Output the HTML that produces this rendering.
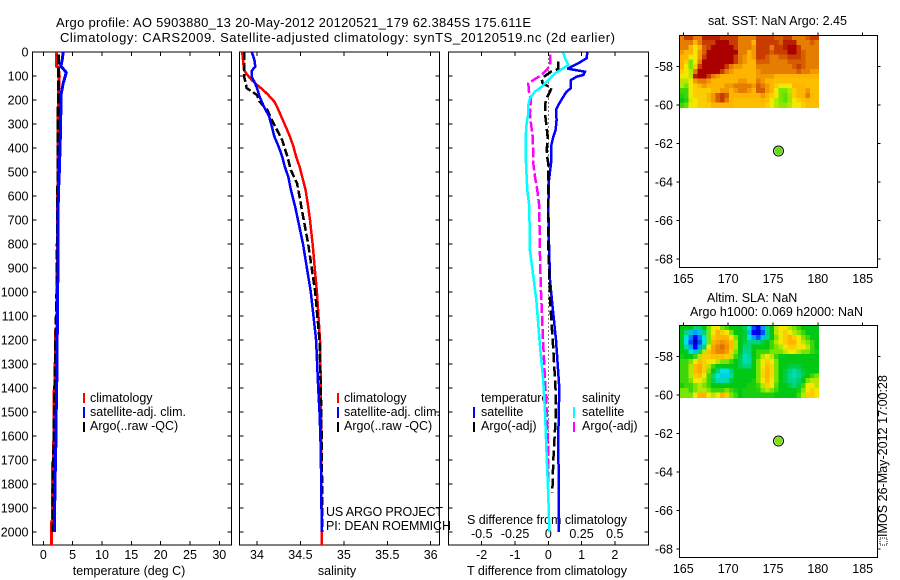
<!DOCTYPE html>
<html>
<head>
<meta charset="utf-8">
<title>Argo profile 5903880_13</title>
<style>
html,body{margin:0;padding:0;background:#fff;}
svg{display:block;}
text{font-family:"Liberation Sans",sans-serif;font-size:12.5px;fill:#000;}
</style>
</head>
<body>
<svg id="chart" xmlns="http://www.w3.org/2000/svg" width="900" height="580" viewBox="0 0 900 580">
  <rect x="0" y="0" width="900" height="580" fill="#fff"/>
  <text x="56" y="27" textLength="475" style="font-size:13px">Argo profile: AO 5903880_13 20-May-2012 20120521_179 62.3845S 175.611E</text>
  <text x="60" y="42" textLength="555" style="font-size:13px">Climatology: CARS2009. Satellite-adjusted climatology: synTS_20120519.nc (2d earlier)</text>

  <text x="129" y="575" text-anchor="middle">temperature (deg C)</text>
  <text x="337" y="575" text-anchor="middle">salinity</text>
  <text x="547" y="575" text-anchor="middle" textLength="160">T difference from climatology</text>
  <text x="547" y="524" text-anchor="middle" textLength="160">S difference from climatology</text>

  <text x="326" y="516" textLength="117">US ARGO PROJECT</text>
  <text x="326" y="530" textLength="125">PI: DEAN ROEMMICH</text>

  <text x="708" y="25">sat. SST: NaN Argo: 2.45</text>
  <text x="707" y="302">Altim. SLA: NaN</text>
  <text x="690" y="316" textLength="173">Argo h1000: 0.069 h2000: NaN</text>

  <rect x="880" y="538" width="7" height="7" fill="none" stroke="#000" stroke-width="1" stroke-dasharray="1 1" shape-rendering="crispEdges"/>
  <text transform="translate(887,537) rotate(-90)" textLength="162">IMOS 26-May-2012 17:00:28</text>

  <g>
    <line x1="84" y1="393" x2="84" y2="403" stroke="#f00" stroke-width="2"/>
    <text x="90" y="402">climatology</text>
    <line x1="84" y1="407" x2="84" y2="418" stroke="#00f" stroke-width="2"/>
    <text x="90" y="416" textLength="96">satellite-adj. clim.</text>
    <line x1="84" y1="422" x2="84" y2="432" stroke="#000" stroke-width="2"/>
    <text x="90" y="430">Argo(..raw -QC)</text>
  </g>
  <g>
    <line x1="338" y1="393" x2="338" y2="403" stroke="#f00" stroke-width="2"/>
    <text x="344" y="402">climatology</text>
    <line x1="338" y1="407" x2="338" y2="418" stroke="#00f" stroke-width="2"/>
    <text x="344" y="416" textLength="96">satellite-adj. clim.</text>
    <line x1="338" y1="422" x2="338" y2="432" stroke="#000" stroke-width="2"/>
    <text x="344" y="430">Argo(..raw -QC)</text>
  </g>
  <g>
    <text x="481" y="402">temperature</text>
    <line x1="474" y1="407" x2="474" y2="418" stroke="#00f" stroke-width="2"/>
    <text x="481" y="416">satellite</text>
    <line x1="474" y1="422" x2="474" y2="432" stroke="#000" stroke-width="2"/>
    <text x="481" y="430">Argo(-adj)</text>
    <text x="582" y="402">salinity</text>
    <line x1="574" y1="407" x2="574" y2="418" stroke="#0ff" stroke-width="2"/>
    <text x="582" y="416">satellite</text>
    <line x1="574" y1="422" x2="574" y2="432" stroke="#f0f" stroke-width="2"/>
    <text x="582" y="430">Argo(-adj)</text>
  </g>
</svg>
<script>
/* ---------- Tick labels ---------- */
const depthTicks = [0,100,200,300,400,500,600,700,800,900,1000,1100,1200,1300,1400,1500,1600,1700,1800,1900,2000];
const temperatureTicks = [0,5,10,15,20,25,30];
const salinityTicks = [34,34.5,35,35.5,36];
const tDiffTicks = [-2,-1,0,1,2];
const sDiffTicks = [-0.5,-0.25,0,0.25,0.5];
const lonTicks = [165,170,175,180,185];
const latTicks = [-58,-60,-62,-64,-66,-68];

/* ---------- Temperature panel ---------- */
const tempClimDepth = [0,60,62,100,120,200,400,800,1150,1160,1400,1410,1700,1710,1950,1960,2054];
const tempClimValue = [2.28,2.28,2.55,2.73,2.7,2.56,2.5,2.4,2.3,2.1,2.0,1.85,1.75,1.6,1.55,1.4,1.4];
const tempSatDepth = [0,30,60,70,85,100,130,180,300,500,600,1000,1400,1500,1600,1800,2000];
const tempSatValue = [3.4,3.24,3.0,3.4,3.9,3.75,3.4,3.0,2.96,2.72,2.56,2.45,2.28,2.2,2.16,2.0,1.87];
const tempArgoDepth = [10,200,400,600,1000,1400,1700,1900,2000];
const tempArgoValue = [2.56,2.56,2.5,2.45,2.3,1.95,1.75,1.65,1.62];

/* ---------- Salinity panel ---------- */
const salClimDepth = [0,75,96,117,137,158,179,207,228,269,311,353,395,436,478,520,575,645,700,800,1000,1200,1400,1700,2054];
const salClimValue = [33.83,33.85,33.89,33.94,34.0,34.07,34.13,34.2,34.23,34.28,34.33,34.38,34.42,34.45,34.49,34.52,34.56,34.59,34.61,34.64,34.69,34.725,34.735,34.74,34.745];
const salSatDepth = [0,33,61,78,103,124,150,186,228,269,311,353,395,436,478,520,575,645,800,1000,1200,1400,1500,1600,1800,2000];
const salSatValue = [33.94,33.97,33.98,33.94,33.94,33.97,34.0,34.03,34.08,34.14,34.17,34.2,34.25,34.29,34.32,34.36,34.39,34.44,34.53,34.62,34.68,34.705,34.72,34.73,34.74,34.745];
const salArgoDepth = [0,100,130,150,165,179,207,242,283,325,367,436,492,547,603,645,800,1000,1200,1500,1800,2000];
const salArgoValue = [33.85,33.85,33.87,33.88,33.94,34.0,34.03,34.12,34.17,34.23,34.29,34.35,34.39,34.46,34.49,34.51,34.59,34.67,34.72,34.74,34.75,34.75];

/* ---------- Difference panel ---------- */
const diffTSatDepth = [2,26,47,68,70,82,96,103,117,151,165,193,221,242,283,325,353,394,464,533,644,800,950,1050,1200,1400,1600,2000];
const diffTSatValue = [1.17,1.15,0.9,0.6,0.6,1.1,1.05,0.85,0.68,0.68,0.55,0.42,0.3,0.23,0.25,0.22,0.15,0.08,0.08,0.02,0,0.02,0.05,0.12,0.23,0.33,0.3,0.32];
const diffTArgoDepth = [40,70,82,110,130,150,165,193,221,256,312,353,424,464,533,644,800,1033,1240,1408,1530,1700,1837];
const diffTArgoValue = [0.3,0.3,0.08,-0.2,-0.17,0.1,0.05,-0.05,-0.1,-0.1,-0.05,-0.02,-0.05,0,0,0,0,0.05,0.15,0.22,0.22,0.15,0.12];
const diffSSatDepth = [2,26,54,68,89,117,145,165,193,221,256,298,353,464,575,644,825,1033,1240,1367,1500,1645,1850,2000];
const diffSSatValue = [0.113,0.125,0.15,0.113,0.05,0,-0.05,-0.1,-0.138,-0.15,-0.15,-0.163,-0.17,-0.168,-0.158,-0.143,-0.138,-0.09,-0.06,-0.038,-0.025,-0.015,0,0.008];
const diffSArgoDepth = [10,54,75,96,117,131,165,193,256,298,353,423,464,520,575,644,800,1000,1200,1367,1500,1650,1800];
const diffSArgoValue = [0.013,0.013,-0.012,-0.05,-0.113,-0.15,-0.145,-0.13,-0.138,-0.13,-0.117,-0.113,-0.113,-0.1,-0.083,-0.068,-0.065,-0.055,-0.04,-0.025,-0.012,0,0];

/* ---------- Zero reference line ---------- */
const zeroDepthRange = [10,2000];

/* ---------- Float position ---------- */
const floatLon = 175.611;
const floatLat = -62.3845;
const floatSstLevel = 4.8;
const floatSlaLevel = 5;

/* ---------- Map grids (colour level 0 to 10), 0.5 deg by 0.25 deg ---------- */
const gridLonStart = 164.6;
const gridLatStart = -56.37;
const gridLonStep = 0.5;
const gridLatStep = 0.25;
const sstGrid = [
[8,9,9,8,8,9.5,9.5,9.5,9.5,9,9,9,9,8,8,8,8,9,9,9,9,8.5,8.5,9,9,8,8,8,8.5,9,9],
[8,8,8,7,8,9,9,9,10,10,10,9,9,8,8,8,7,9,9,9,9,9,8.5,9.5,9.5,9.5,8,8,8,8.5,8],
[8,8,7,6,7,8.5,9,10,10,10,10,10,9,8,8,8,7.5,9,9,9,8,9,9,9.5,10,10,9,8,8,8,8],
[7.5,7,7,6,7.5,8.5,10,10,10,10,10,10,10,8,8,7,7.5,9,9,9,8.5,9,9,9,10,10,9,8.5,8,8,8],
[7,7,6,6,7.5,9,10,10,10,10,10,10,9,8,7.5,7,7.5,9,9,8.5,8,8,8.5,8.5,9,9,9,8.5,8,8,8],
[7,6.5,5,6,8,10,10,10,10,10,10,10,9,8,7.5,7,7,8.5,8.5,8.5,8,8,8,8,8.5,8.5,8.5,8.5,8,8,8],
[7,6,5,6.5,9,10,10,10,10,10,9,8,7.5,7.5,7,7,7,8,8,8,8,8,8,8,8,8.5,9,8.5,8,8,8],
[6.5,6,5.5,8,10,10,10,10,10,9,8,7.5,7,7,7,7,7,7.5,8,8,8,8,8,8,8,8,8.5,8,8,7.5,7.5],
[6,6,5.5,9.5,10,10,9,8,7.5,7,7,7,7,7,7,7,7,7.5,7.5,7.5,7.5,7,7,7,7,7,7,7,7,7,7],
[5.5,5.5,6,7.5,8,8,7.5,7,7,7,7,7,7,7.5,7.5,7,7,8,7.5,7,7,6.8,6.8,6.8,6.8,6.8,6.8,6.8,6.8,6.8,6.8],
[5.5,5,6,6.5,7,7.5,7,7,7,7,7.5,7.5,8,8,8,8,7.5,8.5,8,7.5,7,6.5,6,6,6,7,7,7,6.8,6.8,6.8],
[4.5,4.5,6,6.5,6.5,6.5,6.5,7,7,7.5,7.5,7,7.5,8,8,7.5,7,8.5,8.5,7.5,7,6,5,5,5.5,6.5,7,7,7.5,6.8,6.8],
[4.3,4.5,6,6.5,6.5,6.5,7,7.5,8.5,9,8.5,7,7,7,7,7,7,7,7.5,7,6.5,6,5,4.8,5.3,6.5,7,7,8,7,6.8],
[4,4.3,5.8,6,6.5,6.5,7,7.5,8.5,9,8,7,6.8,6.8,6.8,6.8,6.8,6.8,7,6.8,6,5.5,5,4.8,5.3,6,6.5,6.8,7,6.8,6.8],
[4.5,4.8,6,6,6.5,6.5,6.5,7,7,7,7,7,6.8,6.8,6.8,6.8,6.8,6.8,6.8,6.5,6,5.5,5.2,5.2,5.5,6,6,6.5,6.8,6.8,6.8]
];
const slaGrid = [
[4,4,4,3.5,3.5,4,5,6,6,5,4.5,4,4,4,3.7,3,1.5,1,2,3.5,4,5.5,6,6,5.5,5,4.5,4,4,4,4],
[4,3.5,2.5,2,2.5,3.5,5,6,7,6.5,6,5,4,4,3.8,2.5,1,0.7,1.5,3.5,4,5.5,6,6.5,6,5.5,5,4.5,4,4,4],
[4,3,1.8,1,1.8,3,5,6.5,7,7,7,6,5,4,3.8,3,2,1.5,2.5,3.5,4,5,6,6.5,7,6.5,6,5,4.5,4,4],
[4,3,1.5,0.3,1.5,3,5,7,7.3,7.6,7.3,6.8,5.5,4,3.8,3.5,3.5,3.5,3.8,4,4.5,5.5,6,6.5,7,7,6,5.5,5,4.5,4],
[4,3.3,2,1,2,3.5,6,7.3,7.8,8.2,7.6,6.8,5.5,4,3.5,3.5,4,4,4,4,4.5,5,5.5,6,6.5,6.5,6,6,5.5,4.5,4],
[4,4,3,2.5,3.5,5.5,6.8,7.3,7.8,7.8,7.4,6.5,5,4,3.4,3.5,4,4.5,4.5,4.5,5,5,5,5.5,6,6,5.5,5,5,4.5,4.2],
[4.2,4,4,4.5,5.5,6.5,6.5,6.8,6.8,6.8,6.5,5.5,4.5,3.8,3.2,3.4,4,4.5,5.5,6,5.5,4.5,4,4,4,4,4,4,4,4,4],
[4.5,4.5,5,6,6.8,6.5,6,6,5.5,5,5,4.5,4,3.7,3.2,3.3,4,5,6,6.5,6,5,4,4,4,4,4,4,4,4,4],
[4.5,4.5,5.5,6.8,7.2,6.5,5.5,4.5,4,4,4,4,4,3.7,3.5,3.5,4,5,6,6.8,6.3,5,4,4,3.8,3.8,3.8,4,4,4,4],
[4.5,4.5,5.5,6.8,7.2,6.5,5,4,3.5,3,3,3.5,4,4,4,4,4,5,6.3,7,6.3,5,4,3.8,3.5,3.3,3.5,3.8,4,4,4],
[4.5,4.5,5.5,6.5,6.8,6,4.5,3.5,3,2.7,2.7,3.3,4,4,4,4,4,5,6.3,7,6.3,5,4,3.8,3.4,3.2,3.4,3.8,4,4.5,5],
[4.5,4.5,5,6,6,5.5,4.5,3.7,3.3,3.2,3.3,3.8,4,4,4,4,4.2,5,6,6.8,6,5,4,3.8,3.5,3.4,3.6,4,5,5.5,5.5],
[4.2,4.5,4.5,5,5.5,5,4.5,4,4,4,4,4,4,4,4,4.2,4.2,4.5,5.5,6.5,6,4.7,4,4,3.7,3.5,3.8,4.5,6,6,5.5],
[5,5,4.5,5,5.5,5.5,5,4.5,4.5,4.5,5,4.5,4.2,4,4.2,4.2,4.2,4.3,5,5.5,5,4.5,4,4,4,4,4.2,5,6,6.5,6],
[5,5,5,6,7,7,6,5.5,6,7,6.5,5,4.5,4,4.2,4.2,4.2,4.2,4.2,4.2,4.2,4,4,4,4,4,4.5,5.5,6.5,6.5,6]
];

/* ---------- Helpers ---------- */
const NS = 'http://www.w3.org/2000/svg';
const svg = document.getElementById('chart');

function make(parent, tag, attrs) {
  const el = document.createElementNS(NS, tag);
  for (const k in attrs) el.setAttribute(k, attrs[k]);
  parent.appendChild(el);
  return el;
}
function seg(parent, x1, y1, x2, y2) {
  return make(parent, 'line', {x1: x1, y1: y1, x2: x2, y2: y2, stroke: '#000', 'stroke-width': 1, 'shape-rendering': 'crispEdges'});
}
function label(parent, x, y, anchor, str) {
  const t = make(parent, 'text', {x: x, y: y, 'text-anchor': anchor});
  t.textContent = str;
  return t;
}
function linearScale(v0, p0, v1, p1) {
  return function (v) { return p0 + (v - v0) * (p1 - p0) / (v1 - v0); };
}

/* ---------- Profile panels ---------- */
const TOP = 52, BOTTOM = 545;
const yDepth = linearScale(0, 52, 2000, 532);

const xTemp = linearScale(0, 43.3, 30, 219.3);
const xSal = linearScale(34, 257, 36, 430.7);
const xTDiff = linearScale(0, 548.3, 2, 614.9);
const xSDiff = linearScale(0, 548.3, 0.5, 614.8);

function drawFrame(group, left, right, showDepthLabels) {
  const box = make(group, 'rect', {x: left, y: TOP, width: right - left, height: BOTTOM - TOP, fill: 'none', stroke: '#000', 'stroke-width': 1, 'shape-rendering': 'crispEdges'});
  
  
  depthTicks.forEach(function (d) {
    const y = yDepth(d);
    const a = seg(group, left, y, left + 4, y);
    
    
    const b = seg(group, right - 4, y, right, y);
    
    
    if (showDepthLabels) {
      const t = label(group, left - 4, y + 4.5, 'end', String(d));
      
      
    }
  });
}
function drawXTicks(group, ticks, scale, labelY) {
  ticks.forEach(function (v) {
    const x = scale(v);
    const a = seg(group, x, TOP, x, TOP + 4);
    
    
    const b = seg(group, x, BOTTOM - 4, x, BOTTOM);
    
    
    const t = label(group, x, labelY, 'middle', String(v));
    
    
  });
}
function drawProfile(group, depths, values, scale, color, width, dash) {
  const pts = depths.map(function (d, i) { return scale(values[i]).toFixed(1) + ',' + yDepth(d).toFixed(1); }).join(' ');
  const attrs = {points: pts, fill: 'none', stroke: color, 'stroke-width': width, 'shape-rendering': 'crispEdges', 'stroke-linejoin': 'miter'};
  if (dash) attrs['stroke-dasharray'] = dash;
  return make(group, 'polyline', attrs);
}

/* Panel 1: temperature */
const tempPanel = make(svg, 'g', {});


drawFrame(tempPanel, 32.5, 231.5, true);
drawXTicks(tempPanel, temperatureTicks, xTemp, 559);
const tc = drawProfile(tempPanel, tempClimDepth, tempClimValue, xTemp, '#f00', 3);


const ta = drawProfile(tempPanel, tempArgoDepth, tempArgoValue, xTemp, '#000', 3, '10 3');


const ts = drawProfile(tempPanel, tempSatDepth, tempSatValue, xTemp, '#00f', 3);



/* Panel 2: salinity */
const salPanel = make(svg, 'g', {});


drawFrame(salPanel, 239.5, 439.5, false);
drawXTicks(salPanel, salinityTicks, xSal, 559);
const sc = drawProfile(salPanel, salClimDepth, salClimValue, xSal, '#f00', 2.5);


const sa = drawProfile(salPanel, salArgoDepth, salArgoValue, xSal, '#000', 2.5, '8 3');


const ss = drawProfile(salPanel, salSatDepth, salSatValue, xSal, '#00f', 2.5);



/* Panel 3: differences */
const diffPanel = make(svg, 'g', {});


drawFrame(diffPanel, 448.5, 648.5, false);
drawXTicks(diffPanel, tDiffTicks, xTDiff, 559);
sDiffTicks.forEach(function (v) {
  const t = label(diffPanel, xSDiff(v), 538, 'middle', String(v));
  
  
});
const zl = seg(diffPanel, xTDiff(0), yDepth(zeroDepthRange[0]), xTDiff(0), yDepth(zeroDepthRange[1]));
zl.setAttribute('stroke-dasharray', '1 3');


const dts = drawProfile(diffPanel, diffTSatDepth, diffTSatValue, xTDiff, '#00f', 2.5);


const dta = drawProfile(diffPanel, diffTArgoDepth, diffTArgoValue, xTDiff, '#000', 2.5, '10 4');


const dsa = drawProfile(diffPanel, diffSArgoDepth, diffSArgoValue, xSDiff, '#f0f', 2.5, '10 3');


const dss = drawProfile(diffPanel, diffSSatDepth, diffSSatValue, xSDiff, '#0ff', 2.5);



/* ---------- Map panels ---------- */
const levelStops = [[0,0,143],[0,0,255],[0,160,245],[0,225,225],[0,200,20],[120,230,0],[245,232,0],[255,180,0],[228,125,0],[200,60,0],[170,0,0]];
function levelColor(v) {
  const c = Math.max(0, Math.min(10, v));
  const i = Math.min(9, Math.floor(c));
  const f = c - i;
  const a = levelStops[i], b = levelStops[i + 1];
  return 'rgb(' + [0,1,2].map(function (k) { return Math.round(a[k] + (b[k] - a[k]) * f); }).join(',') + ')';
}
const xLon = linearScale(165, 683.3, 185, 862.7);

function drawMap(name, grid, top, bottom, lat58Y, lat68Y, dotLevel, labelY) {
  const yLat = linearScale(-58, lat58Y, -68, lat68Y);
  const g = make(svg, 'g', {});
  
  
  const left = 679.5, right = 877.5;
  grid.forEach(function (row, r) {
    row.forEach(function (v, c) {
      const x0 = xLon(gridLonStart + c * gridLonStep);
      const x1 = xLon(gridLonStart + (c + 1) * gridLonStep);
      const y0 = yLat(gridLatStart - r * gridLatStep);
      const y1 = yLat(gridLatStart - (r + 1) * gridLatStep);
      const cell = make(g, 'rect', {x: x0.toFixed(2), y: y0.toFixed(2), width: (x1 - x0 + 0.4).toFixed(2), height: (y1 - y0 + 0.4).toFixed(2), fill: levelColor(v), 'shape-rendering': 'crispEdges'});
      
      
    });
  });
  const box = make(g, 'rect', {x: left, y: top, width: right - left, height: bottom - top, fill: 'none', stroke: '#000', 'stroke-width': 1, 'shape-rendering': 'crispEdges'});
  
  
  lonTicks.forEach(function (lon) {
    const x = xLon(lon);
    const tick = seg(g, x, top - 3, x, top);
    
    
    const t = label(g, x, labelY, 'middle', String(lon));
    
    
  });
  latTicks.forEach(function (lat) {
    const y = yLat(lat);
    const a = seg(g, left - 3, y, left, y);
    
    
    const b = seg(g, right, y, right + 3, y);
    
    
    const t = label(g, 673, y + 4.5, 'end', String(lat));
    
    
  });
  const ring = make(g, 'circle', {cx: xLon(floatLon), cy: yLat(floatLat), r: 5, fill: '#fff', stroke: '#000', 'stroke-width': 1});
  
  
  const dot = make(g, 'circle', {cx: xLon(floatLon), cy: yLat(floatLat), r: 4, fill: levelColor(dotLevel)});
  
  
}
drawMap('sst-map', sstGrid, 35.5, 267.5, 66.7, 259, floatSstLevel, 283);
drawMap('sla-map', slaGrid, 325.5, 557.5, 356.7, 549, floatSlaLevel, 573);
</script>
</body>
</html>
